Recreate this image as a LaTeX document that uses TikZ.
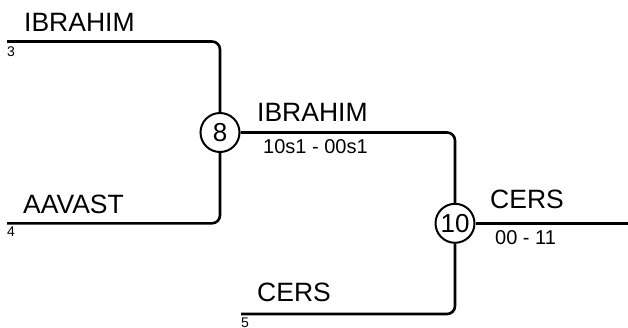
\documentclass[tikz,border=0pt]{standalone}
\usepackage{fontspec}
\setmainfont{Liberation Sans}
\begin{document}
\begin{tikzpicture}[x=1pt,y=-1pt,
  wire/.style={line width=2.6pt,rounded corners=8pt},
  game/.style={circle,draw,line width=2pt,minimum size=39pt,inner sep=0pt,fill=white,font=\fontsize{26}{30}\selectfont},
  team/.style={anchor=base west,inner sep=0pt,font=\fontsize{26.5}{30}\selectfont},
  seed/.style={anchor=base west,inner sep=0pt,font=\fontsize{14}{16}\selectfont},
  score/.style={anchor=base west,inner sep=0pt,font=\fontsize{20}{22}\selectfont}]
\useasboundingbox (0,0) rectangle (628,327);
% start points
\coordinate (p3) at (7,41.5);
\coordinate (p4) at (7,223.3);
\coordinate (p5) at (241,314);
\coordinate (pend) at (628,223.3);
% games
\node[game] (g8) at (220,132.5) {8};
\node[game] (g10) at (455,223.3) {10};
% connectors
\draw[wire] (p3) -| (g8.north);
\draw[wire] (p4) -| (g8.south);
\draw[wire] (g8.east) -| (g10.north);
\draw[wire] (p5) -| (g10.south);
\draw[wire] (g10.east) -- (pend);
% labels
\node[team] (t3) at (24,31) {IBRAHIM};
\node[seed] (n3) at (7,56.5) {3};
\node[team] (t4) at (23,213.3) {AAVAST};
\node[seed] (n4) at (7,236.7) {4};
\node[team] (t5) at (257,301.7) {CERS};
\node[seed] (n5) at (241,327.5) {5};
\node[team] (t8) at (257,121.7) {IBRAHIM};
\node[score] (s8) at (263,153) {10s1 - 00s1};
\node[team] (t10) at (490,208) {CERS};
\node[score] (s10) at (495,244) {00 - 11};
\end{tikzpicture}
\end{document}
